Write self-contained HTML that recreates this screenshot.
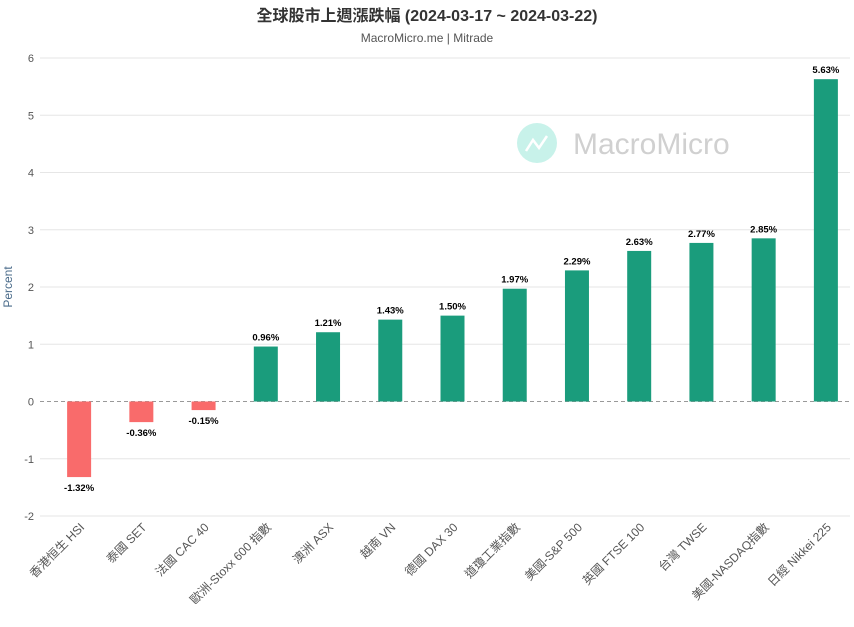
<!DOCTYPE html>
<html><head><meta charset="utf-8"><style>
body{margin:0;background:#fff;}
svg{font-family:"Liberation Sans","Noto Sans CJK TC",sans-serif;display:block}
</style></head><body>
<svg id="c" width="854" height="627">
<text x="427" y="21" text-anchor="middle" font-size="16" font-weight="bold" fill="#333">全球股市上週漲跌幅 (2024-03-17 ~ 2024-03-22)</text>
<text x="427" y="42" text-anchor="middle" font-size="12" fill="#555">MacroMicro.me | Mitrade</text>
<g>
<circle cx="537" cy="143" r="20" fill="#c8f2ea"/>
<polyline points="526,151 533,140 539,148 547,136" fill="none" stroke="#fff" stroke-width="2.5"/>
<text x="573" y="154" font-size="30" fill="#d0d0d0">MacroMicro</text>
</g>
<text transform="translate(12,287) rotate(-90)" text-anchor="middle" font-size="12" fill="#4a6b8a">Percent</text>
<g id="grid"></g><g id="bars"></g>
</svg>
<script>
const categories=["香港恒生 HSI","泰國 SET","法國 CAC 40","歐洲-Stoxx 600 指數","澳洲 ASX","越南 VN","德國 DAX 30","道瓊工業指數","美國-S&P 500","英國 FTSE 100","台灣 TWSE","美國-NASDAQ指數","日經 Nikkei 225"];
const values=[-1.32,-0.36,-0.15,0.96,1.21,1.43,1.50,1.97,2.29,2.63,2.77,2.85,5.63];
const yTicks=[-2,-1,0,1,2,3,4,5,6];
const NS="http://www.w3.org/2000/svg";
const x0=48,x1=857,gridEnd=850,yTop=58,yBot=516,yMin=-2,yMax=6;
const y=v=>yBot-(v-yMin)/(yMax-yMin)*(yBot-yTop);
const step=(x1-x0)/categories.length;
const xc=i=>x0+step*(i+0.5);
function mk(t,a,p){const e=document.createElementNS(NS,t);for(const k in a)e.setAttribute(k,a[k]);(p||document.getElementById('c')).appendChild(e);return e;}
const g=document.getElementById('grid'),b=document.getElementById('bars');
yTicks.forEach(t=>{
 const l=mk('line',{x1:x0-8,x2:gridEnd,y1:y(t),y2:y(t),stroke:t===0?'#999':'#e6e6e6','stroke-dasharray':t===0?'4,3':'none'},g);
 
 
 const tx=mk('text',{x:34,y:y(t)+4,'text-anchor':'end','font-size':11,fill:'#555'},g);
 tx.textContent=t;
 
 
});
values.forEach((v,i)=>{
 const top=Math.min(y(v),y(0)),h=Math.abs(y(v)-y(0));
 const r=mk('rect',{x:xc(i)-12,y:top,width:24,height:h,fill:v<0?'#f96b6b':'#1a9c7c'},b);
 
 
 const lb=mk('text',{x:xc(i),y:v<0?y(v)+14:y(v)-6,'text-anchor':'middle','font-size':9.5,'font-weight':'bold',fill:'#000'},b);
 lb.textContent=v.toFixed(2)+'%';
 
 
 const xl=mk('text',{transform:`translate(${xc(i)+6},${528}) rotate(-45)`,'text-anchor':'end','font-size':12,fill:'#555'},b);
 xl.textContent=categories[i];
 
 
});
</script>
</body></html>
